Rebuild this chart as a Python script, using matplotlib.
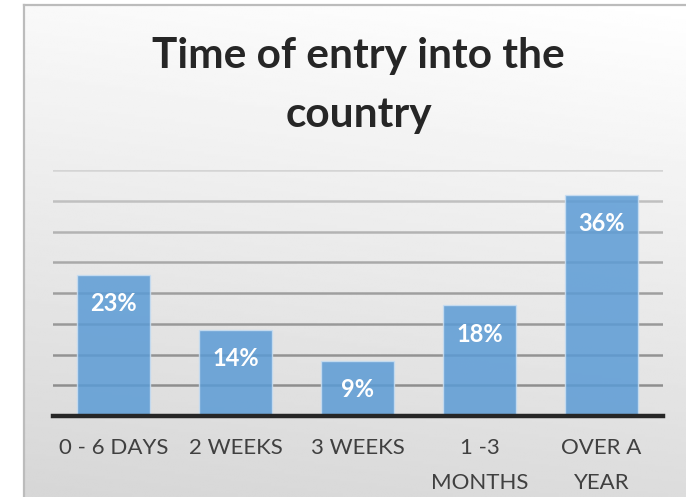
import numpy as np
import matplotlib
matplotlib.use("Agg")
import matplotlib.pyplot as plt

# Dados
categorias = ["0 - 6 DAYS", "2 WEEKS", "3 WEEKS", "1 -3\nMONTHS", "OVER A\nYEAR"]
valores = [23, 14, 9, 18, 36]
rotulos = ["23%", "14%", "9%", "18%", "36%"]
titulo_l1 = "Time of entry into the"
titulo_l2 = "country"

W, H = 686, 497
plt.rcParams["font.family"] = ["Lato", "DejaVu Sans"]

fig = plt.figure(figsize=(W / 100, H / 100), dpi=100)
fig.patch.set_facecolor("white")

# Fundo em degradê (claro em cima/direita, cinza embaixo/esquerda)
bg = fig.add_axes([24 / W, 0, 1 - 24 / W, (H - 5) / H], zorder=0)
yy, xx = np.mgrid[0:1:200j, 0:1:200j]
t = yy * 0.85 + (1 - xx) * 0.15
cinza = 1.0 - 0.16 * t
bg.imshow(cinza, cmap="gray", vmin=0, vmax=1, aspect="auto",
          extent=[0, 1, 1, 0], interpolation="bilinear")
bg.set_axis_off()

# Borda (só esquerda e topo aparecem no recorte)
fig.add_artist(plt.Line2D([24 / W, 24 / W], [0, 1 - 5 / H], color="#bcbcbc",
                          linewidth=1.6, transform=fig.transFigure))
fig.add_artist(plt.Line2D([24 / W, 1], [1 - 5 / H, 1 - 5 / H], color="#bcbcbc",
                          linewidth=1.6, transform=fig.transFigure))

# Título
cx = 358.5 / W
fig.text(cx, 1 - 68 / H, titulo_l1, ha="center", va="baseline",
         fontsize=30.5, fontweight="bold", color="#262626")
fig.text(cx, 1 - 127 / H, titulo_l2, ha="center", va="baseline",
         fontsize=30.5, fontweight="bold", color="#262626")

# Área do gráfico
ax = fig.add_axes([52.5 / W, (H - 416) / H, 610 / W, (416 - 170) / H], zorder=1)
ax.patch.set_alpha(0)
x = np.arange(len(categorias))
ax.set_xlim(-0.5, len(categorias) - 0.5)
ax.set_ylim(0, 40)

# Linhas de grade, mais escuras embaixo
niveis = np.arange(5, 41, 5)
cores_grade = ["#8e8e8e", "#939393", "#999999", "#9f9f9f",
               "#a9a9a9", "#b3b3b3", "#c0c0c0", "#d4d4d4"]
for nv, c in zip(niveis, cores_grade):
    ax.axhline(nv, color=c, linewidth=1.8, zorder=1)

ax.bar(x, valores, width=0.6, color="#5b9bd5", alpha=0.85,
       edgecolor="#c9def2", linewidth=1.0, zorder=2)
ax.axhline(0, color="#262626", linewidth=3.2, zorder=3, clip_on=False)

for xi, v, r in zip(x, valores, rotulos):
    ax.annotate(r, (xi, v), xytext=(0, -29), textcoords="offset pixels",
                ha="center", va="center", fontsize=17, fontweight="bold",
                color="white", zorder=4)

ax.set_yticks([])
ax.set_xticks(x)
ax.set_xticklabels(categorias, fontsize=16, color="#404040", linespacing=1.95,
                   va="top")
ax.tick_params(axis="x", length=0, pad=16)
for s in ax.spines.values():
    s.set_visible(False)

fig.savefig("out.png", dpi=100)
